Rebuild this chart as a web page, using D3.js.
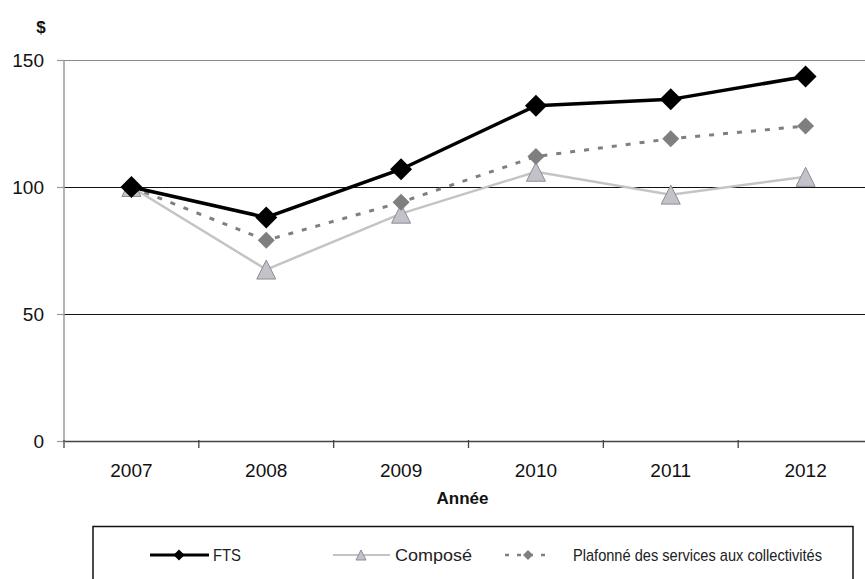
<!DOCTYPE html>
<html>
<head>
<meta charset="utf-8">
<script src="https://cdn.jsdelivr.net/npm/d3@7"></script>
<style>
  html, body { margin: 0; padding: 0; background: #fff; }
  svg { display: block; font-family: "Liberation Sans", Arial, sans-serif; }
</style>
</head>
<body>
<svg id="chart" width="865" height="579"></svg>
<script>
// Années et valeurs ($) des trois séries
const years = ["2007", "2008", "2009", "2010", "2011", "2012"];
const fts = [100, 88, 107, 132, 134.5, 143.5];
const compose = [100, 67.5, 89.5, 106, 97, 104];
const plafonne = [100, 79, 94, 112, 119, 124];
const yTicks = [0, 50, 100, 150];
const seriesNames = ["FTS", "Composé", "Plafonné des services aux collectivités"];

const svg = d3.select("#chart");
const plotLeft = 64, plotRight = 873, plotTop = 60, plotBottom = 441;

const x = d3.scaleBand().domain(years).range([plotLeft, plotRight]).padding(0);
const y = d3.scaleLinear().domain([0, 150]).range([plotBottom, plotTop]);

// Lignes horizontales de la grille
svg.append("g").attr("shape-rendering", "crispEdges")
  .selectAll("line").data(yTicks.filter(d => d > 0)).join("line")
  .attr("x1", plotLeft).attr("x2", 865)
  .attr("y1", d => y(d)).attr("y2", d => y(d))
  .attr("stroke", d => d === 150 ? "#8a8a8a" : "#111")
  .attr("stroke-width", 1);

// Axe des ordonnées
const yAxis = svg.append("g").attr("transform", `translate(${plotLeft},0)`)
  .call(d3.axisLeft(y).tickValues(yTicks).tickSize(7).tickPadding(13));
yAxis.select(".domain").attr("stroke", "#9a9a9a").attr("stroke-width", 1.5)
  .attr("d", `M0,${plotTop}V${plotBottom}`);
yAxis.selectAll(".tick line").attr("stroke", "#9a9a9a").attr("stroke-width", 1.2);
yAxis.selectAll(".tick text").attr("font-size", 19).attr("fill", "#111")
  .attr("font-family", "Liberation Sans, Arial, sans-serif");

// Axe des abscisses avec graduations entre les catégories
const xAxis = svg.append("g").attr("transform", `translate(0,${plotBottom})`)
  .call(d3.axisBottom(x).tickSize(0).tickPadding(23));
xAxis.select(".domain").attr("stroke", "#444").attr("stroke-width", 1.5);
xAxis.selectAll(".tick text").attr("font-size", 19).attr("fill", "#111")
  .attr("font-family", "Liberation Sans, Arial, sans-serif");
svg.append("g").selectAll("line").data(years).join("line")
  .attr("x1", d => x(d)).attr("x2", d => x(d))
  .attr("y1", plotBottom - 1).attr("y2", plotBottom + 7)
  .attr("stroke", "#444").attr("stroke-width", 1.3);

// Titres des axes
svg.append("text").attr("x", 41).attr("y", 33).attr("text-anchor", "middle")
  .attr("font-size", 17).attr("font-weight", "bold").attr("fill", "#111").text("$");
svg.append("text").attr("x", x("2010") - 6).attr("y", 504).attr("text-anchor", "middle")
  .attr("font-size", 17).attr("font-weight", "bold").attr("fill", "#111").text("Année");

const cx = d => x(d) + x.bandwidth() / 2;
const line = d3.line().x((d, i) => cx(years[i])).y(d => y(d));

const diamond = r => `M0,${-r}L${r},0L0,${r}L${-r},0Z`;
const triangle = (w, h) => `M0,${-h / 2}L${w / 2},${h / 2}L${-w / 2},${h / 2}Z`;

// Composé
svg.append("path").datum(compose).attr("d", line)
  .attr("fill", "none").attr("stroke", "#c4c4c4").attr("stroke-width", 2.5);
// Plafonné des services aux collectivités
svg.append("path").datum(plafonne).attr("d", line)
  .attr("fill", "none").attr("stroke", "#7f7f7f").attr("stroke-width", 3)
  .attr("stroke-dasharray", "5,9");
// FTS
svg.append("path").datum(fts).attr("d", line)
  .attr("fill", "none").attr("stroke", "#000").attr("stroke-width", 3.5);

svg.append("g").selectAll("path").data(compose).join("path")
  .attr("transform", (d, i) => `translate(${cx(years[i])},${y(d)})`)
  .attr("d", triangle(19, 19))
  .attr("fill", "#c2c2ca").attr("stroke", "#8d8d95").attr("stroke-width", 1);
svg.append("g").selectAll("path").data(plafonne).join("path")
  .attr("transform", (d, i) => `translate(${cx(years[i])},${y(d)})`)
  .attr("d", diamond(8.5))
  .attr("fill", "#7f7f7f");
svg.append("g").selectAll("path").data(fts).join("path")
  .attr("transform", (d, i) => `translate(${cx(years[i])},${y(d)})`)
  .attr("d", diamond(11))
  .attr("fill", "#000");

// Légende
svg.append("rect").attr("x", 93).attr("y", 526.5).attr("width", 760).attr("height", 70)
  .attr("fill", "#fff").attr("stroke", "#111").attr("stroke-width", 1.5);

const ly = 555;
const lg = svg.append("g");
// FTS
lg.append("line").attr("x1", 150).attr("x2", 209).attr("y1", ly).attr("y2", ly)
  .attr("stroke", "#000").attr("stroke-width", 3);
lg.append("path").attr("transform", `translate(179,${ly})`).attr("d", diamond(5.5)).attr("fill", "#000");
// Composé
lg.append("line").attr("x1", 333).attr("x2", 390).attr("y1", ly).attr("y2", ly)
  .attr("stroke", "#c4c4c4").attr("stroke-width", 2);
lg.append("path").attr("transform", `translate(361,${ly})`).attr("d", triangle(10, 10))
  .attr("fill", "#c2c2ca").attr("stroke", "#8d8d95").attr("stroke-width", 1);
// Plafonné
lg.append("line").attr("x1", 505).attr("x2", 551).attr("y1", ly).attr("y2", ly)
  .attr("stroke", "#7f7f7f").attr("stroke-width", 2.5).attr("stroke-dasharray", "4,8");
lg.append("path").attr("transform", `translate(528,${ly})`).attr("d", diamond(5)).attr("fill", "#7f7f7f");

const labelX = [213, 395, 573];
const labelW = [28, 77, 249];
lg.selectAll("text").data(seriesNames).join("text")
  .attr("x", (d, i) => labelX[i]).attr("y", ly + 6)
  .attr("font-size", 17).attr("fill", "#222")
  .attr("textLength", (d, i) => labelW[i]).attr("lengthAdjust", "spacingAndGlyphs")
  .text(d => d);
</script>
</body>
</html>
